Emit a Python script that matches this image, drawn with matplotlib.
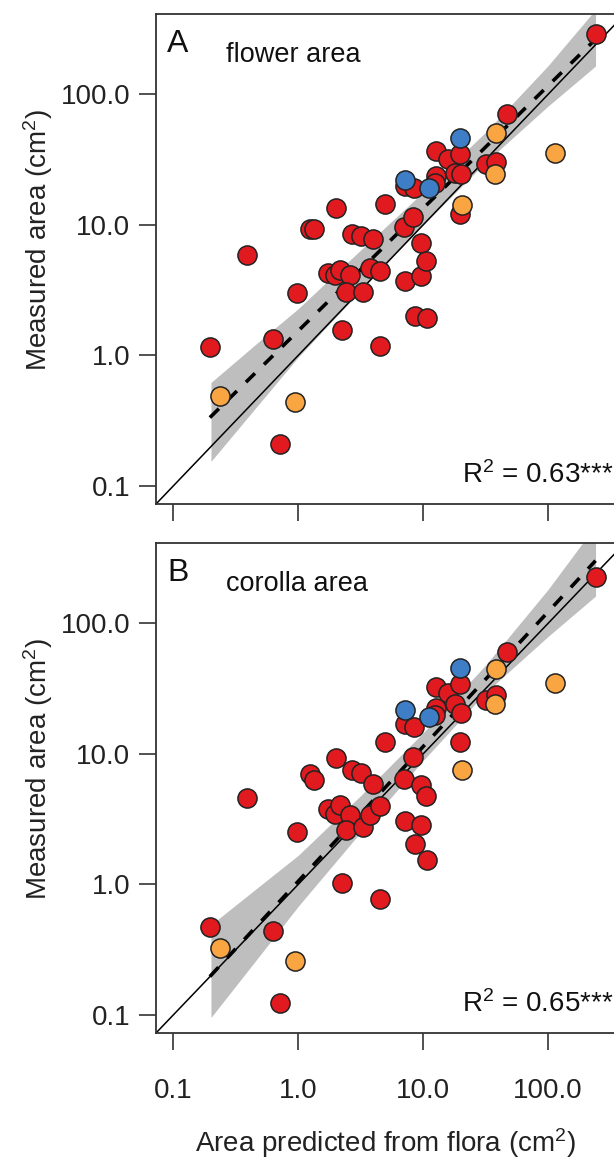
import numpy as np
import matplotlib
matplotlib.use("Agg")
import matplotlib.pyplot as plt

plt.rcParams['font.family'] = ['Liberation Sans', 'DejaVu Sans']
plt.rcParams['mathtext.fontset'] = 'custom'
plt.rcParams['mathtext.rm'] = 'Liberation Sans'

# group: r = red, b = blue, o = orange
group = ['r', 'o', 'r', 'r', 'r', 'r', 'o', 'r', 'r', 'r',
         'r', 'r', 'r', 'r', 'r', 'r', 'r', 'r', 'r', 'r',
         'r', 'r', 'r', 'r', 'r', 'b', 'r', 'r', 'r', 'r',
         'r', 'r', 'r', 'r', 'r', 'b', 'r', 'r', 'r', 'r',
         'r', 'r', 'b', 'r', 'o', 'r', 'r', 'r', 'o', 'o',
         'r', 'o', 'r']

# area predicted from flora (cm2)
predicted = [0.196, 0.235, 0.386, 0.629, 0.711, 0.973, 0.95, 1.236, 1.33, 2.02,
             1.73, 1.96, 2.15, 2.61, 2.26, 2.43, 2.68, 3.20, 4.00, 3.28,
             3.73, 4.49, 4.49, 4.92, 7.07, 7.11, 7.11, 7.11, 8.29, 8.39,
             8.55, 9.55, 9.55, 10.47, 10.7, 11.2, 12.6, 12.6, 12.36, 15.8,
             17.9, 19.6, 19.6, 20.2, 20.3, 19.6, 31.6, 38.4, 37.3, 38.4,
             46.6, 112.7, 240.0]

# measured flower area (cm2)
flower = [1.16, 0.49, 5.87, 1.34, 0.21, 2.98, 0.44, 9.22, 9.22, 13.5,
          4.31, 4.16, 4.51, 4.16, 1.57, 3.05, 8.44, 8.15, 7.73, 3.08,
          4.69, 4.41, 1.19, 14.5, 9.55, 21.9, 19.9, 3.70, 11.5, 19.3,
          2.02, 7.20, 4.05, 5.27, 1.94, 19.3, 36.8, 23.8, 21.0, 32.0,
          25.1, 35.2, 46.6, 24.4, 14.1, 12.1, 29.1, 30.4, 24.4, 50.3,
          70.3, 35.3, 289.0]

# measured corolla area (cm2)
corolla = [0.468, 0.327, 4.58, 0.439, 0.124, 2.51, 0.259, 7.05, 6.26, 9.31,
           3.80, 3.44, 4.03, 3.38, 1.03, 2.61, 7.47, 7.12, 5.83, 2.75,
           3.38, 3.96, 0.767, 12.4, 6.37, 21.5, 16.9, 3.04, 9.39, 16.2,
           2.03, 5.73, 2.84, 4.72, 1.53, 19.1, 32.8, 22.4, 19.8, 29.1,
           24.3, 34.4, 45.5, 20.7, 7.47, 12.3, 25.9, 28.5, 24.2, 45.0,
           59.9, 34.7, 227.0]

# fitted line (log10 intercept, slope)
fit_flower = (0.188, 0.939)
fit_corolla = (0.024, 1.032)

# confidence band edges
band_x = [0.2, 0.5, 1.0, 3.16, 10.0, 31.6, 100.0, 240.0]
band_flower_lo = [0.154, 0.44, 0.97, 3.14, 10.0, 30.2, 81.3, 165.0]
band_flower_hi = [0.62, 1.31, 2.28, 6.42, 17.8, 51.3, 166.0, 447.0]
band_corolla_lo = [0.0955, 0.291, 0.68, 2.51, 8.9, 29.5, 79.4, 162.0]
band_corolla_hi = [0.49, 0.986, 1.67, 4.79, 14.5, 47.9, 182.0, 562.0]

panels = [('A', 'flower area', flower, fit_flower, band_flower_lo, band_flower_hi,
           'R$\\mathregular{^2}$ = 0.63***'),
          ('B', 'corolla area', corolla, fit_corolla, band_corolla_lo, band_corolla_hi,
           'R$\\mathregular{^2}$ = 0.65***')]

colors = {'r': '#E01A1F', 'b': '#3E7EC6', 'o': '#F9A542'}
lim = (10 ** -1.139, 10 ** 2.616)

fig = plt.figure(figsize=(6.14, 11.61), dpi=100)
W, H = 614.0, 1161.0
tops = [14, 543]

for i, (letter, title, meas, fit, lo, hi, r2) in enumerate(panels):
    top = tops[i]
    ax = fig.add_axes([156 / W, 1 - (top + 490) / H, 469 / W, 490 / H])
    ax.set_xscale('log')
    ax.set_yscale('log')
    ax.set_xlim(lim)
    ax.set_ylim(lim)

    ax.fill_between(band_x, lo, hi, color='#BEBEBE', lw=0, zorder=1)
    ax.plot(lim, lim, color='black', lw=1.1, zorder=2)
    xs = np.array([min(predicted), max(predicted)])
    ys = 10 ** (fit[0] + fit[1] * np.log10(xs))
    ax.plot(xs, ys, color='black', lw=2.6, ls=(0, (3.5, 3.5)), zorder=3)

    n = len(predicted)
    for g in ['r', 'b', 'o']:
        idx = [k for k in range(n) if group[k] == g]
        ax.scatter([predicted[k] for k in idx], [meas[k] for k in idx], s=190,
                   c=colors[g], edgecolors='#222222', linewidths=1.1, zorder=4)

    ax.spines['right'].set_visible(False)
    for sp in ['left', 'bottom', 'top']:
        ax.spines[sp].set_linewidth(1.3)
        ax.spines[sp].set_color('#333333')
    ticks = [0.1, 1, 10, 100]
    ax.set_xticks(ticks)
    ax.set_yticks(ticks)
    ax.minorticks_off()
    ax.set_yticklabels(['0.1', '1.0', '10.0', '100.0'])
    if i == 0:
        ax.set_xticklabels([])
    else:
        ax.set_xticklabels(['0.1', '1.0', '10.0', '100.0'])
    ax.tick_params(axis='both', direction='out', length=12.5, width=1.2,
                   color='#333333', labelsize=20, labelcolor='#222222')
    ax.tick_params(axis='y', pad=6)
    ax.tick_params(axis='x', pad=20)

    fig.text(167 / W, 1 - (top + 38) / H, letter, fontsize=23, color='#111111',
             ha='left', va='baseline')
    fig.text(226 / W, 1 - (top + 48) / H, title, fontsize=19.5, color='#111111',
             ha='left', va='baseline')
    fig.text(462 / W, 1 - (top + 469) / H, r2, fontsize=20, color='#111111',
             ha='left', va='baseline')
    fig.text(38 / W, 1 - (top + 226) / H, 'Measured area (cm$\\mathregular{^2}$)',
             fontsize=20, color='#222222', rotation=90, ha='center', va='center')

fig.text(385 / W, 1 - 1143 / H, 'Area predicted from flora (cm$\\mathregular{^2}$)',
         fontsize=20, color='#222222', ha='center', va='center')

fig.savefig('out.png', dpi=100)
